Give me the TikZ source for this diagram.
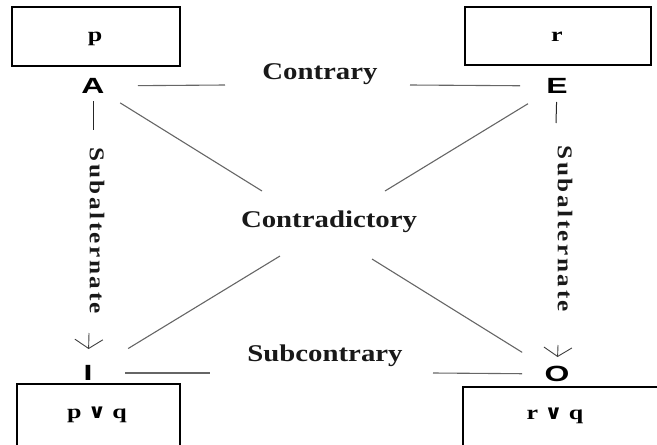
\documentclass[tikz,border=0pt]{standalone}
\usepackage{fontspec}
\setmainfont{Liberation Serif}
% wide bold serif for the relation names and the propositions
\newfontfamily\relfont[FakeStretch=1.2]{Liberation Serif}
\newfontfamily\sidefont[FakeStretch=1.2,LetterSpace=12]{Liberation Serif}
\newfontfamily\propfont[FakeStretch=1.3]{Liberation Serif}
\newfontfamily\orfont[FakeStretch=1.1]{DejaVu Sans}
% heavy sans for the four corner letters
\newfontfamily\cornerfont[FakeStretch=1.45]{Liberation Sans}
\usetikzlibrary{arrows.meta}

\begin{document}
\begin{tikzpicture}[x=1pt,y=-1pt,
  propbox/.style={draw=black,line width=1.1pt},
  corner/.style={font=\cornerfont\bfseries\fontsize{22}{22}\selectfont,inner sep=0pt},
  relation/.style={font=\relfont\bfseries\fontsize{24}{24}\selectfont,inner sep=0pt,anchor=base,text=black!90},
  sidelabel/.style={font=\sidefont\bfseries\fontsize{21}{21}\selectfont,inner sep=0pt,text=black!90},
  prop/.style={font=\propfont\bfseries\fontsize{20}{20}\selectfont,inner sep=0pt,anchor=base},
  link/.style={draw=black!60,line width=1.1pt},
  stub/.style={draw=black!85,line width=1pt},
  subarrow/.style={draw=black!75,line width=0.9pt,-{Straight Barb[length=9pt,width=28pt]}},
]
\useasboundingbox (0,0) rectangle (657,445);
\clip (0,0) rectangle (657,445);

% proposition boxes
\draw[propbox] (12,7) rectangle (180,66);
\draw[propbox] (465,7) rectangle (651,65);
\draw[propbox] (17,384) rectangle (180,470);
\draw[propbox] (463,387) rectangle (680,470);
\node[prop] (pA) at (95,41) {p};
\node[prop] (pE) at (557,41) {r};
\node[prop] (pI) at (97,418) {p {\orfont ∨} q};
\node[prop] (pO) at (555,419) {r {\orfont ∨} q};

% the four corners of the square
\node[corner] (A) at (93,86) {A};
\node[corner] (E) at (557,86) {E};
\node[corner] (I) at (88,373) {I};
\node[corner] (O) at (557,374) {O};

% relation names
\node[relation] (contrary) at (320,79) {Contrary};
\node[relation] (contradictory) at (329,227) {Contradictory};
\node[relation] (subcontrary) at (325,361) {Subcontrary};
\node[rotate=-90,sidelabel] (subL) at (97,231) {Subalternate};
\node[rotate=-90,sidelabel] (subR) at (565,229) {Subalternate};

% ends of the broken lines
\coordinate (ctrL) at (225,85);
\coordinate (ctrR) at (410,85);
\coordinate (subcL) at (210,373);
\coordinate (subcR) at (433,373);
\coordinate (aoL) at (262,191);
\coordinate (aoR) at (372,259);
\coordinate (eiR) at (385,191);
\coordinate (eiL) at (280,256);
\coordinate (leftTop) at (93,130);
\coordinate (leftBot) at (89,333);
\coordinate (rightTop) at (556,123);
\coordinate (rightBot) at (558,345);

% contrary: A -- E
\draw[link,shorten <=45pt] (A.center) -- (ctrL);
\draw[link,shorten >=37pt] (ctrR) -- (E.center);
% subcontrary: I -- O
\draw[link,shorten <=37pt] (I.center) -- (subcL);
\draw[link,shorten >=35pt] (subcR) -- (O.center);
% contradictories: A -- O and E -- I
\draw[link,shorten <=32pt] (A.center) -- (aoL);
\draw[link,shorten >=41pt] (aoR) -- (O.center);
\draw[link,shorten <=34pt] (E.center) -- (eiR);
\draw[link,shorten >=47pt] (eiL) -- (I.center);
% subalternation: A -> I and E -> O
\draw[stub,shorten <=15pt] (A.center) -- (leftTop);
\draw[subarrow,shorten >=24pt] (leftBot) -- (I.center);
\draw[stub,shorten <=16pt] (E.center) -- (rightTop);
\draw[subarrow,shorten >=17pt] (rightBot) -- (O.center);
\end{tikzpicture}
\end{document}
